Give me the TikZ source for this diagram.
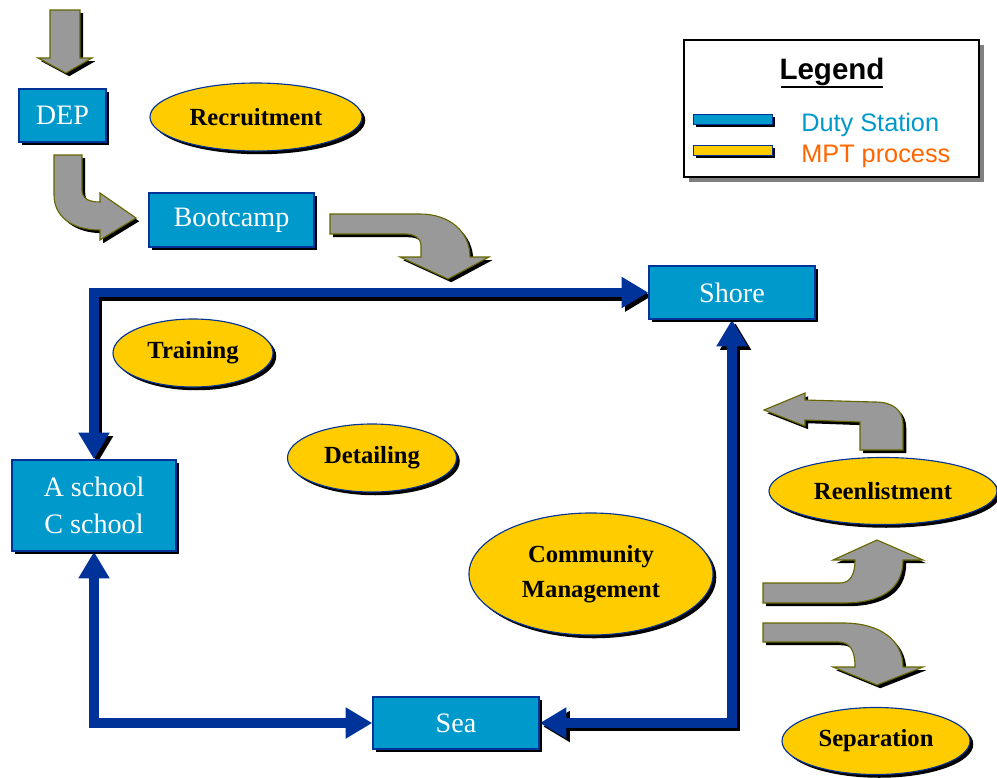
\documentclass[tikz,border=0pt]{standalone}
\usepackage{fontspec}
\setmainfont{Liberation Serif}
\newfontfamily\legendfont{Liberation Sans}
\usetikzlibrary{shapes.geometric,shadows,arrows.meta,backgrounds}
\definecolor{boxblue}{HTML}{0099CC}
\definecolor{lineblue}{HTML}{003399}
\definecolor{mptyellow}{HTML}{FFCC00}
\definecolor{arrowgray}{HTML}{999999}
\definecolor{arrowedge}{HTML}{666600}
\definecolor{mptorange}{HTML}{FF6600}
\begin{document}
\begin{tikzpicture}[x=0.025cm,y=-0.025cm,
  shadowblk/.style={drop shadow={shadow xshift=2.3pt,shadow yshift=-2.3pt,fill=black,opacity=1}},
  station/.style={rectangle,draw=lineblue,line width=1pt,fill=boxblue,text=white,
    font=\fontsize{20}{26}\selectfont,inner sep=0pt,align=center,shadowblk},
  process/.style={ellipse,draw=lineblue,line width=0.8pt,fill=mptyellow,text=black,
    font=\bfseries\fontsize{17.5}{25}\selectfont,inner sep=0pt,align=center,shadowblk},
  blockarrow/.style={fill=arrowgray,draw=arrowedge,line width=0.8pt,shadowblk},
  flow/.style={draw=lineblue,line width=7pt,{Triangle[length=19pt,width=21pt]}-{Triangle[length=19pt,width=21pt]}},
  flowshadow/.style={draw=black,line width=7pt,{Triangle[length=19pt,width=21pt]}-{Triangle[length=19pt,width=21pt]},
    transform canvas={xshift=2.5pt,yshift=-2.5pt}},
  legendbar/.style={rectangle,draw=lineblue,line width=0.6pt,minimum width=1.975cm,minimum height=0.25cm,inner sep=0pt,shadowblk},
  legendtext/.style={anchor=base west,inner sep=0pt,font=\legendfont\fontsize{18}{20}\selectfont}
]
\useasboundingbox (0,0) rectangle (997,777);

% duty stations
\node[station,minimum width=2.175cm,minimum height=1.325cm] (dep) at (62.5,115.5) {DEP};
\node[station,minimum width=4.125cm,minimum height=1.35cm] (bootcamp) at (231.5,220) {Bootcamp};
\node[station,minimum width=4.15cm,minimum height=1.325cm] (shore) at (732,292.5) {Shore};
\node[station,minimum width=4.1cm,minimum height=2.275cm] (aschool) at (94,505.5) {A school\\C school};
\node[station,minimum width=4.15cm,minimum height=1.3cm] (sea) at (456,723) {Sea};

% MPT processes
\node[process,minimum width=5.3cm,minimum height=1.7cm] (recruit) at (256,117) {Recruitment};
\node[process,minimum width=4.0cm,minimum height=1.7cm] (training) at (193,353) {Training};
\node[process,minimum width=4.225cm,minimum height=1.7cm] (detailing) at (372,458) {Detailing};
\node[process,minimum width=6.1cm,minimum height=3.05cm] (community) at (591,574) {Community\\Management};
\node[process,minimum width=5.7cm,minimum height=1.675cm] (reenlist) at (883,491) {Reenlistment};
\node[process,minimum width=4.7cm,minimum height=1.675cm] (separation) at (876,741) {Separation};

% blue connectors
\begin{scope}[on background layer]
  \draw[flowshadow] (aschool.north) |- (shore.west);
  \draw[flow] (aschool.north) |- (shore.west);
  \draw[flowshadow] (shore.south) |- (sea.east);
  \draw[flow] (shore.south) |- (sea.east);
  \draw[flow] (aschool.south) |- (sea.west);
\end{scope}

% gray block arrows
\filldraw[blockarrow] (50,10) -- (80,10) -- (80,58) -- (92,58) -- (66,73) -- (38,58) -- (50,58) -- cycle;
\filldraw[blockarrow] (54,155) -- (82,155) -- (82,190) .. controls (82,198) and (88,202) .. (100,202)
  -- (100,193) -- (136,218) -- (100,240) -- (100,230) .. controls (70,230) and (54,215) .. (54,195) -- cycle;
\filldraw[blockarrow] (330,214) -- (420,214) .. controls (450,214) and (470,232) .. (470,257)
  -- (489,257) -- (448,279) -- (400,257) -- (421,257) -- (421,245) .. controls (421,238) and (414,234) .. (405,234)
  -- (330,234) -- cycle;
\filldraw[blockarrow] (860,450) -- (903,450) -- (903,425) .. controls (903,410) and (893,402) .. (875,402)
  -- (805,400) -- (805,393) -- (764,410) -- (805,426) -- (805,420) -- (860,422) -- cycle;
\filldraw[blockarrow] (763,583) -- (840,583) .. controls (850,583) and (855,575) .. (855,560)
  -- (833,560) -- (877,540) -- (923,560) -- (903,560) .. controls (903,590) and (880,603) .. (843,603)
  -- (763,603) -- cycle;
\filldraw[blockarrow] (763,623) -- (843,623) .. controls (880,623) and (903,640) .. (903,667)
  -- (923,667) -- (877,685) -- (833,667) -- (855,667) .. controls (855,650) and (850,642) .. (838,642)
  -- (763,642) -- cycle;

% legend
\node[rectangle,draw=black,line width=0.9pt,fill=white,minimum width=7.375cm,minimum height=3.425cm,
  drop shadow={shadow xshift=3.5pt,shadow yshift=-3.5pt,fill=black!50,opacity=1}] (legend) at (831.5,108.5) {};
\node[inner sep=0pt,font=\legendfont\bfseries\fontsize{21}{24}\selectfont] (legendtitle) at (832,72) {Legend};
\draw[line width=1pt] (781,87) -- (883,87);
\node[legendbar,fill=boxblue] (barduty) at (732.5,119) {};
\node[legendbar,fill=mptyellow] (barmpt) at (732.5,150) {};
\node[legendtext,text=boxblue] (dutytext) at (801,131) {Duty Station};
\node[legendtext,text=mptorange] (mpttext) at (801,162) {MPT process};
\end{tikzpicture}
\end{document}
